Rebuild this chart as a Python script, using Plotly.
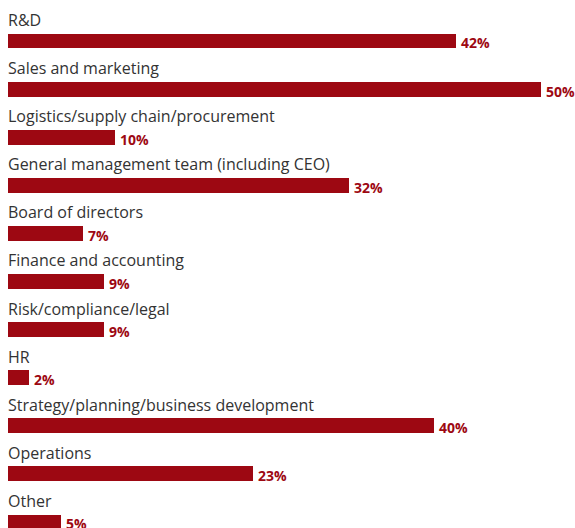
import plotly.graph_objects as go

categories = [
    "R&D",
    "Sales and marketing",
    "Logistics/supply chain/procurement",
    "General management team (including CEO)",
    "Board of directors",
    "Finance and accounting",
    "Risk/compliance/legal",
    "HR",
    "Strategy/planning/business development",
    "Operations",
    "Other",
]
values = [42, 50, 10, 32, 7, 9, 9, 2, 40, 23, 5]

RED = "#9d0812"
TEXT = "#333333"
FONT = "Open Sans"

fig = go.Figure(
    go.Bar(
        x=values,
        y=categories,
        orientation="h",
        width=0.31,
        marker=dict(color=RED, line=dict(width=0)),
        hoverinfo="skip",
    )
)

annotations = []
for c, v in zip(categories, values):
    annotations.append(
        dict(
            x=0, y=c, xref="x", yref="y", text=c, showarrow=False,
            xanchor="left", yanchor="bottom", yshift=9, xshift=-1, borderpad=0,
            font=dict(family=FONT, size=16, color=TEXT),
        )
    )
    annotations.append(
        dict(
            x=v, y=c, xref="x", yref="y", text=f"<b>{v}%</b>", showarrow=False,
            xanchor="left", yanchor="middle", yshift=-2, xshift=4, borderpad=0,
            font=dict(family=FONT, size=14, color=RED),
        )
    )

fig.update_layout(
    width=575,
    height=528,
    margin=dict(l=8, r=0, t=0, b=0, autoexpand=False),
    paper_bgcolor="white",
    plot_bgcolor="white",
    showlegend=False,
    bargap=0,
    annotations=annotations,
    xaxis=dict(range=[0, 53.19], visible=False, fixedrange=True, automargin=False),
    yaxis=dict(
        range=[10.125, -0.852],
        visible=False,
        fixedrange=True,
        automargin=False,
        type="category",
        categoryorder="array",
        categoryarray=categories,
    ),
)

fig.write_html(
    "out.html",
    config={"displayModeBar": False},
    post_script="document.body.style.margin='0';document.body.style.overflow='hidden';",
)
